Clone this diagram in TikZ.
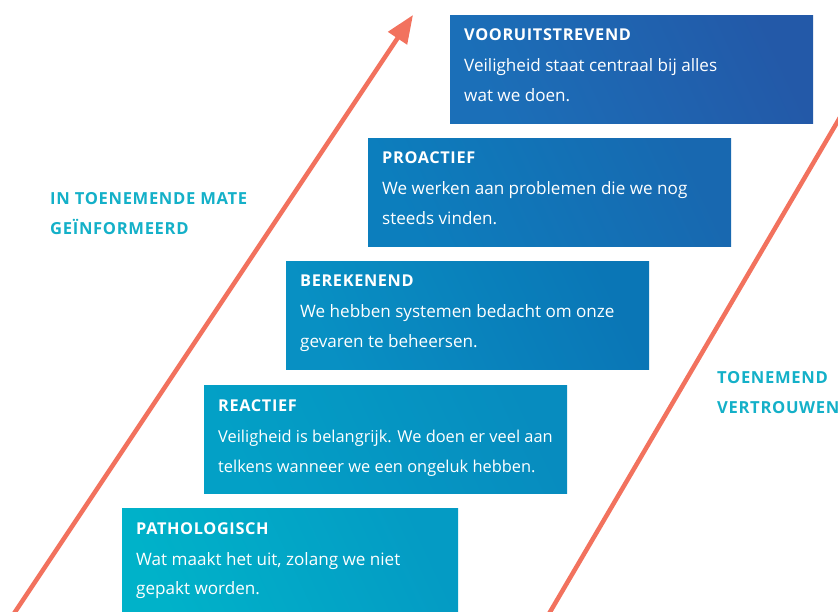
\documentclass[tikz,border=0pt]{standalone}
\usepackage{fontspec}
\setmainfont{Open Sans}
\newfontfamily\titlefont[LetterSpace=4]{Open Sans Bold}
\usetikzlibrary{arrows.meta}
\definecolor{arrowred}{RGB}{242,114,94}
\definecolor{labelteal}{RGB}{20,176,200}
\definecolor{cA}{HTML}{1B6FB8}\definecolor{dA}{HTML}{2359A8}
\definecolor{cB}{HTML}{0C7EBD}\definecolor{dB}{HTML}{1868B0}
\definecolor{cC}{HTML}{0890C3}\definecolor{dC}{HTML}{0A76B6}
\definecolor{cD}{HTML}{03A0C6}\definecolor{dD}{HTML}{078CBF}
\definecolor{cE}{HTML}{00B2C9}\definecolor{dE}{HTML}{049BC4}
\tikzset{
  stagebox/.style 2 args={draw=none, inner sep=0pt, anchor=north west,
    minimum height=108pt, bottom color=#1, top color=#2, shading angle=-65},
  titletext/.style={anchor=base west, inner sep=0pt, text=white,
    font=\titlefont\fontsize{16.3}{18}\selectfont},
  bodytext/.style={anchor=base west, inner sep=0pt, text=white,
    font=\fontsize{17.1}{20}\selectfont},
  bodytextnarrow/.style={bodytext, font=\fontsize{16.4}{20}\selectfont},
  sidelabel/.style={anchor=base west, inner sep=0pt, text=labelteal,
    font=\titlefont\fontsize{16.6}{18}\selectfont},
  arrowline/.style={draw=arrowred, line width=4.5pt}
}
\begin{document}
\begin{tikzpicture}[x=1pt,y=-1pt]
\useasboundingbox (0,0) rectangle (838,612);

% boxes
\node[stagebox={cA}{dA}, minimum width=363pt] (box1) at (450,15) {};
\node[stagebox={cB}{dB}, minimum width=363pt] (box2) at (368,138) {};
\node[stagebox={cC}{dC}, minimum width=363pt] (box3) at (286,261) {};
\node[stagebox={cD}{dD}, minimum width=363pt] (box4) at (204,385) {};
\node[stagebox={cE}{dE}, minimum width=336pt] (box5) at (122,508) {};

% texts
\node[titletext] (t1) at (464,41) {VOORUITSTREVEND};
\node[bodytext] (a1) at (464,72) {Veiligheid staat centraal bij alles};
\node[bodytext] (b1) at (464,102) {wat we doen.};

\node[titletext] (t2) at (382,164) {PROACTIEF};
\node[bodytext] (a2) at (382,195) {We werken aan problemen die we nog};
\node[bodytext] (b2) at (382,225) {steeds vinden.};

\node[titletext] (t3) at (300,287) {BEREKENEND};
\node[bodytext] (a3) at (300,318) {We hebben systemen bedacht om onze};
\node[bodytext] (b3) at (300,348) {gevaren te beheersen.};

\node[titletext] (t4) at (218,411) {REACTIEF};
\node[bodytextnarrow] (a4) at (218,442) {Veiligheid is belangrijk. We doen er veel aan};
\node[bodytextnarrow] (b4) at (218,472) {telkens wanneer we een ongeluk hebben.};

\node[titletext] (t5) at (136,534) {PATHOLOGISCH};
\node[bodytext] (a5) at (136,565) {Wat maakt het uit, zolang we niet};
\node[bodytext] (b5) at (136,594) {gepakt worden.};

% side labels
\node[sidelabel] (l1) at (50,205) {IN TOENEMENDE MATE};
\node[sidelabel] (l2) at (50,235) {GEÏNFORMEERD};
\node[sidelabel] (r1) at (717,383) {TOENEMEND};
\node[sidelabel] (r2) at (717,413) {VERTROUWEN};

% arrows
\coordinate (s1) at (11,618);
\coordinate (e1) at (413,15);
\draw[arrowline, -{Triangle[length=28pt,width=22pt]}] (s1) -- (e1);
\coordinate (s2) at (546.5,618);
\coordinate (e2) at (842,114);
\draw[arrowline] (s2) -- (e2);
\end{tikzpicture}
\end{document}
